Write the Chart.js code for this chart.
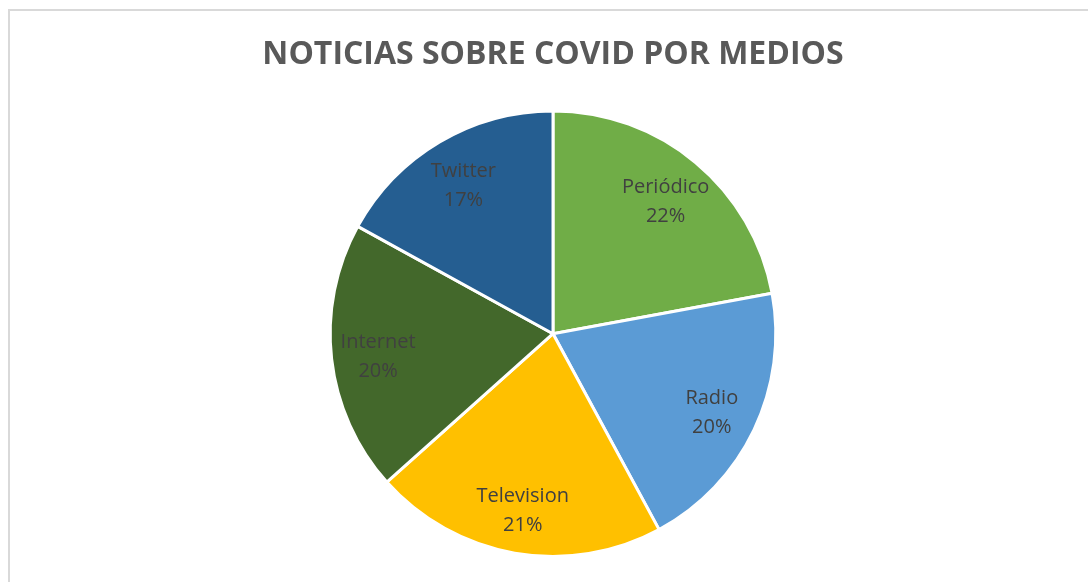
<!DOCTYPE html>
<html>
<head>
<meta charset="utf-8">
<script src="https://cdn.jsdelivr.net/npm/chart.js@4"></script>
<style>
  html, body { margin: 0; padding: 0; background: #fff; }
  #wrap { position: absolute; left: 0; top: 0; width: 1088px; height: 582px; }
  #frame { position: absolute; left: 8px; top: 9px; width: 1200px; height: 700px; border: 2px solid #d9d9d9; box-sizing: border-box; }
</style>
</head>
<body>
<div id="frame"></div>
<div id="wrap"><canvas id="pie" width="1088" height="582"></canvas></div>
<script>
// datos del gráfico
const categories = ['Periódico', 'Radio', 'Television', 'Internet', 'Twitter'];
const shares = [22.1, 20.0, 21.3, 19.6, 17.0];
const sliceColors = ['#70ad47', '#5b9bd5', '#ffc000', '#43682b', '#255e91'];
const chartTitle = 'NOTICIAS SOBRE COVID POR MEDIOS';

// etiquetas dentro de cada porción
const sliceLabels = {
  id: 'sliceLabels',
  afterDatasetsDraw(chart) {
    const ctx = chart.ctx;
    const meta = chart.getDatasetMeta(0);
    ctx.save();
    ctx.font = '20px "Open Sans", sans-serif';
    ctx.fillStyle = '#404040';
    ctx.textAlign = 'center';
    ctx.textBaseline = 'middle';
    meta.data.forEach((arc, i) => {
      const p = arc.getProps(['x', 'y', 'startAngle', 'endAngle', 'outerRadius'], true);
      const mid = (p.startAngle + p.endAngle) / 2;
      const r = p.outerRadius * 0.79;
      const x = p.x + Math.cos(mid) * r;
      const y = p.y + Math.sin(mid) * r;
      ctx.fillText(categories[i], x, y - 11);
      ctx.fillText(Math.round(shares[i]) + '%', x, y + 18);
    });
    ctx.restore();
  }
};

new Chart(document.getElementById('pie'), {
  type: 'pie',
  data: {
    labels: categories,
    datasets: [{
      data: shares,
      backgroundColor: sliceColors,
      borderColor: '#ffffff',
      borderWidth: 3
    }]
  },
  options: {
    responsive: false,
    animation: false,
    layout: { padding: { left: 18, right: 0, top: 0, bottom: 24 } },
    plugins: {
      legend: { display: false },
      tooltip: { enabled: false },
      title: {
        display: true,
        text: chartTitle,
        color: '#595959',
        font: { family: '"Open Sans", sans-serif', size: 32, weight: 'bold', lineHeight: 1.2 },
        padding: { top: 36, bottom: 35 }
      }
    }
  },
  plugins: [sliceLabels]
});
</script>
</body>
</html>
